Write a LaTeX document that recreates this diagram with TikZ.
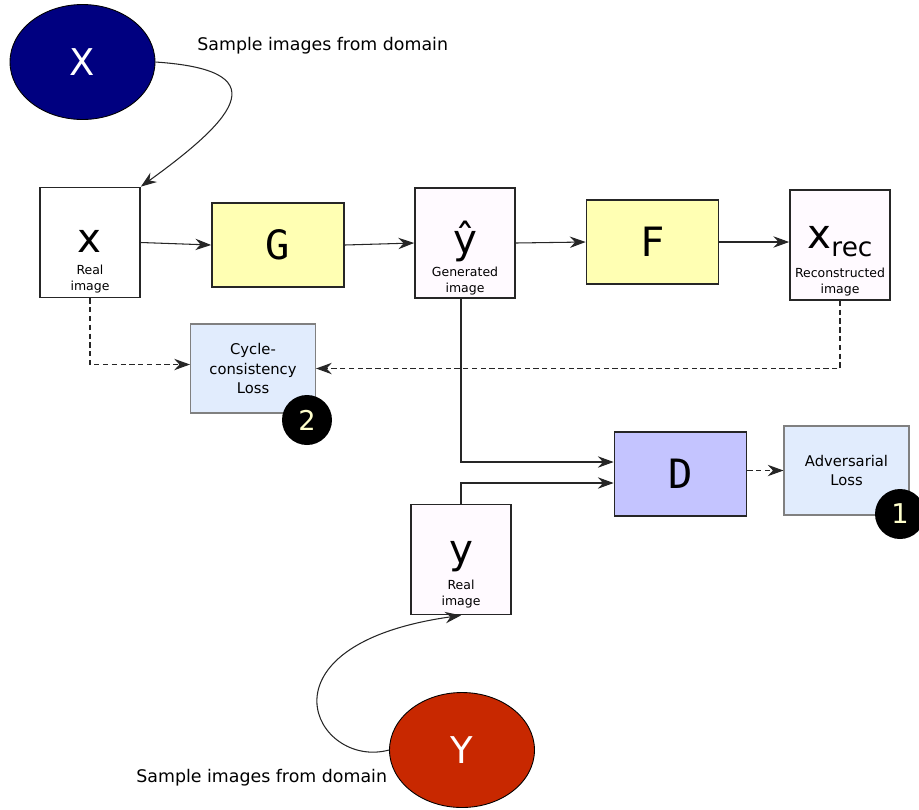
\documentclass[tikz,border=0pt]{standalone}
\usepackage{fontspec}
\setmainfont{DejaVu Sans}
\newfontfamily\monof{DejaVu Sans Mono}
\usetikzlibrary{shapes.geometric,calc,arrows.meta}
\definecolor{domX}{RGB}{0,0,128}
\definecolor{domY}{RGB}{200,40,0}
\definecolor{netfill}{RGB}{255,255,179}
\definecolor{discfill}{RGB}{196,196,255}
\definecolor{lossfill}{RGB}{225,236,253}
\definecolor{imgfill}{RGB}{255,250,255}
\definecolor{digit}{RGB}{255,255,204}

\begin{document}
\begin{tikzpicture}[x=0.02cm,y=-0.02cm,
  imgbox/.style={draw=black!85,line width=1pt,fill=imgfill,minimum width=2cm,minimum height=2.2cm},
  netbox/.style={draw=black!85,line width=1pt,fill=netfill,minimum width=2.64cm,minimum height=1.68cm,font=\monof\fontsize{23}{23}\selectfont},
  lossbox/.style={draw=black!50,line width=0.6pt,fill=lossfill,minimum width=2.5cm,minimum height=1.78cm,align=center,font=\fontsize{8.4}{11}\selectfont},
  domnode/.style={ellipse,draw=black,line width=0.5pt,minimum width=2.9cm,minimum height=2.3cm,inner sep=0pt,text=white,font=\fontsize{21}{21}\selectfont},
  badge/.style={circle,fill=black,minimum size=1cm,inner sep=0pt,text=digit,font=\fontsize{15.5}{15.5}\selectfont},
  sym/.style={anchor=base,inner sep=0pt,font=\fontsize{23}{23}\selectfont},
  captxt/.style={align=center,inner sep=0pt,font=\fontsize{7.1}{9.1}\selectfont},
  note/.style={anchor=west,inner sep=0pt,font=\fontsize{9.9}{12}\selectfont},
  flow/.style={-{Stealth[length=9pt,width=6.5pt,inset=3pt]},line width=0.6pt,black!85},
  lossflow/.style={flow,dash pattern=on 3pt off 2pt}]
  \useasboundingbox (0,0) rectangle (919,809);

  % domains
  \node[domnode,fill=domX] (X) at (82.5,62) {X};
  \node[domnode,fill=domY] (Y) at (462,750) {Y};
  \node[note] (sx) at (197,46) {Sample images from domain};
  \node[note] (sy) at (136,778) {Sample images from domain};

  % images
  \node[imgbox,fill=white] (x) at (90,242.5) {};
  \node[sym] (xl) at (89,252) {x};
  \node[captxt] (xc) at (90,279) {Real\\image};
  \node[imgbox] (yhat) at (465,243) {};
  \node[sym] (yhatl) at (465,253) {ŷ};
  \node[captxt] (yhatc) at (465,281) {Generated\\image};
  \node[imgbox] (xrec) at (840,245) {};
  \node[sym] (xrecl) at (840,248) {x\raisebox{-0.22em}{\fontsize{15}{15}\selectfont rec}};
  \node[captxt] (xrecc) at (840,282) {Reconstructed\\image};
  \node[imgbox] (y) at (461,559.5) {};
  \node[sym] (yl) at (461,563) {y};
  \node[captxt] (yc) at (461,594) {Real\\image};

  % networks
  \node[netbox] (G) at (278,245) {G};
  \node[netbox] (F) at (652.5,242) {F};
  \node[netbox,fill=discfill] (D) at (680.5,474) {D};

  % losses
  \node[lossbox] (cyc) at (253,368.5) {Cycle-\\consistency\\Loss};
  \node[lossbox] (adv) at (846.5,470.5) {Adversarial\\Loss};
  \node[badge] (b2) at (307,420) {2};
  \node[badge] (b1) at (900,514) {1};

  % connectors
  \draw[flow] (X.east) .. controls (275,70) and (240,115) .. (x.north east);
  \draw[flow] (x.east) -- (G.west);
  \draw[flow] (G.east) -- (yhat.west);
  \draw[flow] (yhat.east) -- (F.west);
  \draw[flow] (F.east) -- (F.east -| xrec.west);
  \draw[lossflow] (x.south) |- ($(cyc.west)+(0,-4)$);
  \draw[lossflow] (xrec.south) |- (cyc.east);
  \draw[flow] ($(yhat.south)+(-4,0)$) |- ($(D.west)+(0,-12)$);
  \draw[flow] (y.north) |- ($(D.west)+(0,9)$);
  \draw[lossflow] (D.east |- adv.west) -- (adv.west);
  \draw[flow] (Y.west) .. controls (315,770) and (250,645) .. (y.south);
\end{tikzpicture}
\end{document}
